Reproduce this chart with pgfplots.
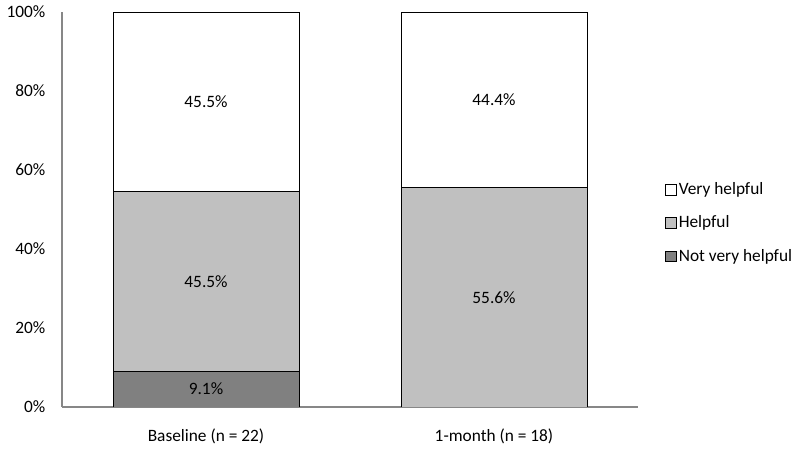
\documentclass[border=0pt]{standalone}
\usepackage{pgfplots}
\pgfplotsset{compat=1.18}
\usepackage{fontspec}
\setmainfont{Carlito}
\definecolor{axisgray}{HTML}{878787}
\definecolor{dgray}{HTML}{808080}
\definecolor{lgray}{HTML}{C0C0C0}
\pgfplotsset{
  geom/.style={
    at={(46.5pt,32.25pt)}, anchor=south west,
    scale only axis, width=432pt, height=296.25pt,
    xmin=-0.5, xmax=1.5, ymin=0, ymax=100,
  }
}
\begin{document}
\begin{tikzpicture}
\useasboundingbox (0,0) rectangle (600pt,337.5pt);
\begin{axis}[
  geom,
  ybar stacked, bar width=139.5pt,
  xtick={0,1}, xticklabels={Baseline (n = 22), 1-month (n = 18)},
  ytick={0,20,40,60,80,100},
  yticklabel={\pgfmathprintnumber{\tick}\%},
  /pgf/number format/assume math mode=true,
  major tick length=0pt,
  axis x line*=bottom, axis y line*=left,
  axis line style={axisgray, line width=0.8pt},
  x axis line style={-}, y axis line style={-},
  xticklabel style={yshift=-13pt, font=\fontsize{13}{15}\selectfont},
  yticklabel style={xshift=-9pt, font=\fontsize{13}{15}\selectfont},
  legend style={draw=none, at={(1,0.5)}, anchor=west, xshift=17pt, yshift=-10pt,
    font=\fontsize{13}{15}\selectfont, row sep=10.5pt, legend cell align=left},
  legend image code/.code={\draw[#1, draw=black, line width=0.4pt] (0pt,-4pt) rectangle (8pt,4pt);},
  reverse legend,
]
\addplot[fill=dgray, draw=black, line width=0.6pt] coordinates {(0,9.1) (1,0)};
\addplot[fill=lgray, draw=black, line width=0.6pt] coordinates {(0,45.5) (1,55.6)};
\addplot[fill=white, draw=black, line width=0.6pt] coordinates {(0,45.4) (1,44.4)};
\legend{Not very helpful, Helpful, Very helpful}
\end{axis}
\begin{axis}[
  geom, axis lines=none,
  point meta=explicit symbolic,
  nodes near coords,
  every node near coord/.append style={anchor=center, font=\fontsize{13}{15}\selectfont},
]
\addplot[draw=none, mark=none] coordinates {(0,4.55) [9.1\%] (0,31.85) [45.5\%] (0,77.25) [45.5\%] (1,27.8) [55.6\%] (1,77.8) [44.4\%]};
\end{axis}
\end{tikzpicture}
\end{document}
